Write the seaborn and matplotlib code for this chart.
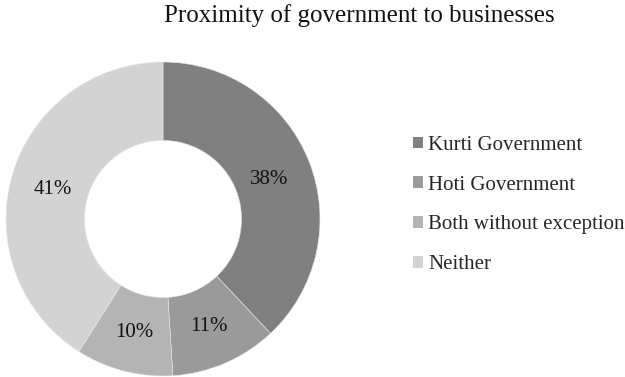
import matplotlib
matplotlib.use("Agg")
import matplotlib.pyplot as plt
import seaborn as sns

categories = ["Kurti Government", "Hoti Government", "Both without exception", "Neither"]
shares = [38, 11, 10, 41]
colors = ["#808080", "#9a9a9a", "#b4b4b4", "#d3d3d3"]

sns.set_theme(style="white")
plt.rcParams["font.family"] = ["Liberation Serif", "DejaVu Serif"]

fig = plt.figure(figsize=(6.25, 3.77), dpi=100)
ax = fig.add_axes([6 / 625, 1 / 377, 314 / 625, 314 / 377])

wedges, texts, autotexts = ax.pie(
    shares,
    colors=colors,
    startangle=90,
    counterclock=False,
    radius=1.0,
    autopct=lambda p: f"{p:.0f}%",
    pctdistance=0.73,
    wedgeprops=dict(width=0.5, edgecolor="#e6e6e6", linewidth=0.4),
    textprops=dict(fontsize=15, color="#111111"),
)
for t in autotexts:
    t.set_verticalalignment("center_baseline")
ax.set_xlim(-1, 1)
ax.set_ylim(-1, 1)
ax.set_aspect("equal")

fig.text(359.5 / 625, 1 - 22 / 377, "Proximity of government to businesses",
         ha="center", va="baseline", fontsize=18, color="#111111")

leg = fig.legend(
    wedges, categories,
    loc="center left",
    bbox_to_anchor=(413 / 625, 1 - 205 / 377),
    frameon=False,
    fontsize=15,
    borderpad=0,
    borderaxespad=0,
    handlelength=0.48,
    handleheight=0.48,
    handletextpad=0.25,
    labelspacing=1.0,
)
for h in leg.legend_handles:
    h.set_edgecolor("none")

fig.savefig("out.png", dpi=100)
